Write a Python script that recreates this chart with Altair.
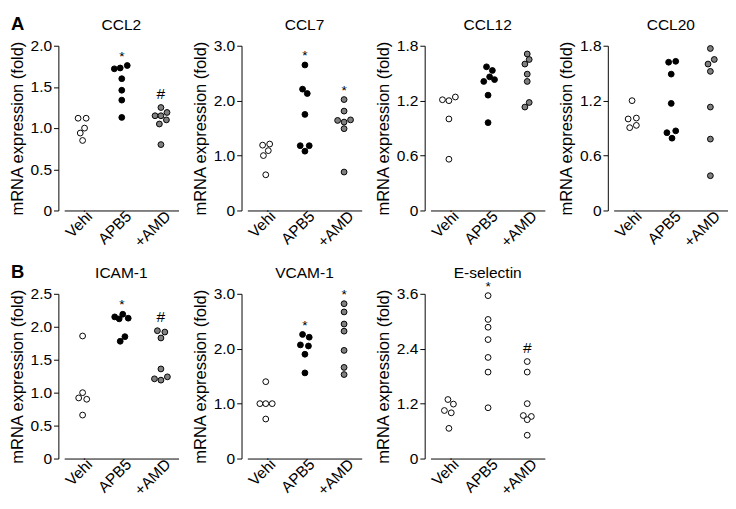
import altair as alt
import pandas as pd

FONT = "Liberation Sans"
GROUPS = ["Vehi", "APB5", "+AMD"]
WHITE, BLACK, GRAY = "#ffffff", "#000000", "#808080"

# ---- data (offsets = horizontal dodge in category units) ----
ccl2_vals = [[1.12, 1.12, 1.00, 0.94, 0.85],
             [1.72, 1.73, 1.76, 1.60, 1.46, 1.34, 1.13],
             [1.25, 1.15, 1.15, 1.19, 1.10, 1.05, 0.80]]
ccl2_offs = [[-0.115, 0.09, 0.05, -0.06, 0],
             [-0.19, -0.04, 0.14, 0, 0, 0, 0],
             [0, -0.15, 0, 0.155, 0.14, -0.04, 0]]

ccl7_vals = [[1.19, 1.21, 1.09, 1.00, 0.65],
             [2.65, 2.21, 2.13, 1.75, 1.18, 1.18, 1.08],
             [2.02, 1.81, 1.64, 1.61, 1.65, 1.49, 0.70]]
ccl7_offs = [[-0.08, 0.1, 0.065, -0.06, 0],
             [0, -0.06, 0.06, 0, -0.12, 0.11, 0],
             [0, 0, -0.165, 0, 0.165, 0, 0]]

ccl12_vals = [[1.21, 1.20, 1.24, 1.00, 0.56],
              [1.57, 1.53, 1.41, 1.46, 1.43, 1.26, 0.96],
              [1.71, 1.65, 1.60, 1.49, 1.41, 1.18, 1.13]]
ccl12_offs = [[-0.165, 0, 0.165, 0, 0],
              [-0.04, 0.11, -0.11, 0.04, 0.165, 0, 0],
              [0, 0.05, -0.06, 0, 0, 0.05, -0.06]]

ccl20_vals = [[1.20, 1.00, 1.01, 0.905, 0.93],
              [1.62, 1.63, 1.49, 1.17, 0.85, 0.87, 0.79],
              [1.77, 1.65, 1.60, 1.52, 1.13, 0.78, 0.38]]
ccl20_offs = [[0, -0.1, 0.11, -0.06, 0.11],
              [-0.066, 0.115, 0, 0, -0.11, 0.115, 0.02],
              [0, 0.1, -0.06, 0, 0, 0, 0]]

icam_vals = [[1.86, 1.00, 0.92, 0.90, 0.66],
             [2.15, 2.12, 2.19, 2.13, 1.78, 1.85],
             [1.94, 1.92, 1.83, 1.36, 1.21, 1.19, 1.24]]
icam_offs = [[0, 0, -0.1, 0.105, 0],
             [-0.18, -0.066, 0.025, 0.165, -0.04, 0.08],
             [-0.09, 0.1, 0, 0, -0.165, 0, 0.165]]

vcam_vals = [[1.40, 1.00, 1.00, 1.00, 0.72],
             [2.26, 2.21, 2.07, 2.05, 1.90, 1.56],
             [2.82, 2.67, 2.45, 2.32, 1.97, 1.66, 1.53]]
vcam_offs = [[0, -0.15, 0, 0.165, 0],
             [-0.06, 0.11, -0.115, 0.09, 0, 0],
             [0, 0, 0, 0, 0, 0, 0]]

esel_vals = [[1.29, 1.05, 1.19, 1.00, 0.66],
             [3.56, 3.04, 2.87, 2.60, 2.21, 1.89, 1.11],
             [2.12, 1.89, 1.20, 0.94, 0.92, 0.85, 0.51]]
esel_offs = [[-0.025, -0.115, 0.115, 0.06, 0],
             [0, 0, 0, 0, 0, 0, 0],
             [0, 0, 0, -0.1, 0.105, 0, 0]]

ticks_ccl2 = [0, 0.5, 1.0, 1.5, 2.0]
ticks_3 = [0, 1.0, 2.0, 3.0]
ticks_18 = [0, 0.6, 1.2, 1.8]
ticks_icam = [0, 0.5, 1.0, 1.5, 2.0, 2.5]
ticks_esel = [0, 1.2, 2.4, 3.6]

PW, PH = 118, 170
TITLE_Y = -21
LABEL_EXPR = " : ".join(
    [f"datum.value == {i} ? '{g}'" for i, g in enumerate(GROUPS[:-1])]) + f" : '{GROUPS[-1]}'"


def panel(name, ticks, vals, offs, annot, fills, letter=None):
    rows = []
    for gi, g in enumerate(GROUPS):
        for v, o in zip(vals[gi], offs[gi]):
            rows.append({"group": g, "pos": gi + o, "value": v})
    df = pd.DataFrame(rows)

    x_enc = alt.X("pos:Q",
                  scale=alt.Scale(domain=[-0.47, 2.45], nice=False, zero=False),
                  axis=alt.Axis(values=[0, 1, 2], labelExpr=LABEL_EXPR, labelAngle=-45,
                                labelAlign="right", labelBaseline="middle",
                                labelOffset=7, labelPadding=3, ticks=False, grid=False,
                                labelOverlap=False, labelBound=False,
                                domainColor="black", labelFontSize=16),
                  title=None)
    y_enc = alt.Y("value:Q",
                  scale=alt.Scale(domain=[0, ticks[-1]], nice=False, zero=True),
                  axis=alt.Axis(values=ticks,
                                labelExpr="datum.value == 0 ? '0' : format(datum.value, '.1f')",
                                offset=6, tickSize=5, grid=False, labelFontSize=16,
                                labelOverlap=False,
                                titleFontSize=17, titlePadding=4),
                  title="mRNA expression (fold)")

    pts = alt.Chart(df).mark_circle(size=36, stroke="black", strokeWidth=1, opacity=1).encode(
        x=x_enc, y=y_enc,
        fill=alt.Fill("group:N", scale=alt.Scale(domain=GROUPS, range=fills), legend=None),
    )
    layers = [pts]
    if annot:
        adf = pd.DataFrame([{"pos": GROUPS.index(g), "value": max(vals[GROUPS.index(g)]), "sym": s}
                            for g, s in annot.items()])
        for sym, dy, fs in (("*", -5, 14), ("#", -9, 16)):
            if sym in annot.values():
                layers.append(
                    alt.Chart(adf).transform_filter(alt.datum.sym == sym)
                    .mark_text(fontSize=fs, baseline="alphabetic", dy=dy, font=FONT, color="black")
                    .encode(x=x_enc, y=y_enc, text="sym:N")
                )
    # panel title
    layers.append(
        alt.Chart(pd.DataFrame({"t": [name]}))
        .mark_text(fontSize=16, font=FONT, color="black", align="center", baseline="middle")
        .encode(text="t:N", x=alt.value(PW / 2), y=alt.value(TITLE_Y))
    )
    if letter:
        layers.append(
            alt.Chart(pd.DataFrame({"t": [letter]}))
            .mark_text(fontSize=19, font=FONT, fontWeight="bold", color="black",
                       align="left", baseline="middle")
            .encode(text="t:N", x=alt.value(-55), y=alt.value(TITLE_Y - 1))
        )
    return alt.layer(*layers).properties(width=PW, height=PH)


normal = [WHITE, BLACK, GRAY]
allwhite = [WHITE, WHITE, WHITE]

row1 = alt.hconcat(
    panel("CCL2", ticks_ccl2, ccl2_vals, ccl2_offs, {"APB5": "*", "+AMD": "#"}, normal, letter="A"),
    panel("CCL7", ticks_3, ccl7_vals, ccl7_offs, {"APB5": "*", "+AMD": "*"}, normal),
    panel("CCL12", ticks_18, ccl12_vals, ccl12_offs, {}, normal),
    panel("CCL20", ticks_18, ccl20_vals, ccl20_offs, {}, normal),
    spacing=13,
).resolve_scale(fill="independent")

row2 = alt.hconcat(
    panel("ICAM-1", ticks_icam, icam_vals, icam_offs, {"APB5": "*", "+AMD": "#"}, normal, letter="B"),
    panel("VCAM-1", ticks_3, vcam_vals, vcam_offs, {"APB5": "*", "+AMD": "*"}, normal),
    panel("E-selectin", ticks_esel, esel_vals, esel_offs, {"APB5": "*", "+AMD": "#"}, allwhite),
    spacing=13,
).resolve_scale(fill="independent")

chart = alt.vconcat(row1, row2, spacing=14).resolve_scale(fill="independent").properties(
    padding=0
).configure_view(
    stroke=None
).configure_axis(
    labelFont=FONT, titleFont=FONT, labelColor="black", titleColor="black",
    domainColor="black", tickColor="black", titleFontWeight="normal", grid=False,
)

chart.save("out.html", embed_options={"renderer": "svg", "actions": False})
